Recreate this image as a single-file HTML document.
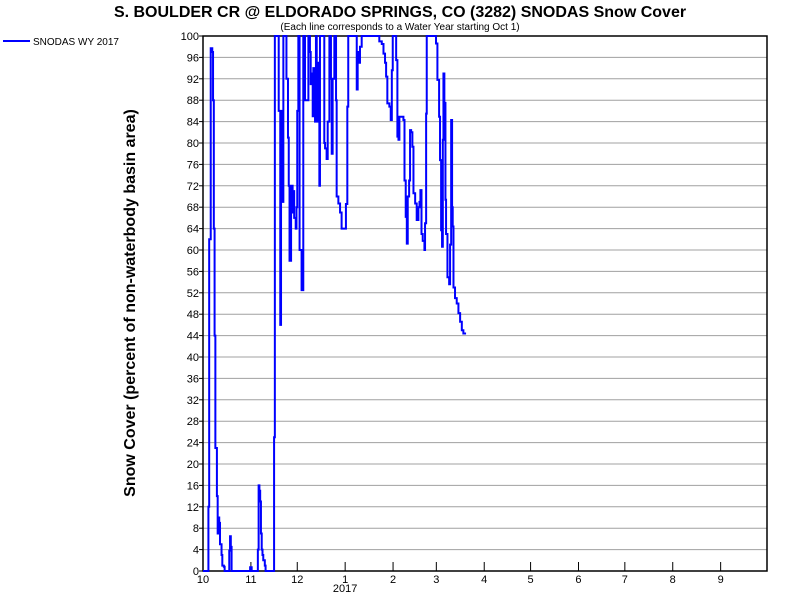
<!DOCTYPE html>
<html><head><meta charset="utf-8"><style>
body{margin:0;background:#fff;}
svg text{font-family:"Liberation Sans",sans-serif;}
</style></head><body>
<svg id="chart" width="800" height="600" viewBox="0 0 800 600" xmlns="http://www.w3.org/2000/svg">
<rect width="800" height="600" fill="#fff"/>
<text x="400" y="17" text-anchor="middle" font-size="16" font-weight="bold">S. BOULDER CR @ ELDORADO SPRINGS, CO (3282) SNODAS Snow Cover</text>
<text x="400" y="30" text-anchor="middle" font-size="10">(Each line corresponds to a Water Year starting Oct 1)</text>
<text transform="translate(135,303) rotate(-90)" text-anchor="middle" font-size="16" font-weight="bold">Snow Cover (percent of non-waterbody basin area)</text>
<g>
<line x1="3" y1="41" x2="30" y2="41" stroke="#0000ff" stroke-width="2"/>
<text x="33" y="45" font-size="10">SNODAS WY 2017</text>
</g>
<g id="grid"></g><g id="axes"></g><g id="series"></g>
</svg>
<script>
const yTicks=[0,4,8,12,16,20,24,28,32,36,40,44,48,52,56,60,64,68,72,76,80,84,88,92,96,100];
const xTickLabels=["10","11","12","1","2","3","4","5","6","7","8","9"];
const xTickDays=[0,31,61,92,123,151,182,212,243,273,304,335];
const days=[0,3,3.5,4,5,6,6.5,7,7.5,8,9,9.5,10,10.5,11,12,12.5,13.5,14,16.5,17,17.5,18,18.5,30,30.5,31.5,35,35.5,36,36.5,37,37.5,38,38.5,39,40,40.5,45.5,46,46.5,48.5,49,50,50.5,51,52,53.5,54,55,55.5,56,57,58,58.5,59,60,60.5,61,61.7,62.5,63.8,64.9,66,68.2,69.2,69.7,70.3,71,71.4,72.5,73.1,73.6,74.6,75.3,75.7,77.9,78.5,79,80,80.7,81.8,82.8,83.3,83.9,85,86.1,86.5,87.6,88.7,89.7,91.9,92.5,93.4,94,98.4,99.5,100.1,100.5,101.6,102.7,112.4,114.1,115.7,116.8,117.8,118.5,119.3,120.6,121.5,122.2,122.8,124.3,125,125.8,126.5,127.1,129.7,130.4,131.2,131.9,132.5,133.4,134,134.7,135.5,136.2,137.3,138.3,139.4,140.1,140.7,141.4,142.2,143.3,143.7,144.4,144.8,150.2,150.8,151.7,152.8,153.4,154.1,154.7,155.2,155.6,156.2,156.9,157.3,158.2,159.3,159.9,160.6,161.2,161.6,162.1,163.1,164.2,165.3,166.4,167.5,168.5,169.6];
const values=[0,0,12,62,97.7,97,88,64,44,23,14,7,10,9,5,3,1,0.8,0,0,3.8,6.5,4.5,0,0,0.7,0,0,4,16,15,13,7,4,3,2,1,0,0,25,100,100,86,46,86,69,100,100,92,81,72,58,72,67,71,66,64,68,86,100,60,52.5,100,88,100,97,91,93,85,94,84,100,84,95,72,100,100,80,79,77,84,100,92,78,92,100,88,70,68.7,67,64,64,68.6,86.8,100,100,90,97,95,98,100,100,99,98.5,96.7,95,92.4,87.4,86.8,84.3,93.6,100,100,95.5,81.2,80.6,84.9,84.3,73,66.2,61.2,70,73,82.4,82,79.3,70.6,68.7,65.6,68,69,71.2,63,61.7,60,65,85.5,100,100,98.6,91.8,84.9,76.8,63.7,60.6,80.6,93,87.5,69.4,63,54.9,53.6,61,84.3,68,64.4,53,51,50,48.2,46.6,45,44.4,44.2];
const X0=203,X1=767,Y0=571,Y1=36,NS="http://www.w3.org/2000/svg";
const xs=d=>X0+d*(X1-X0)/365, ys=v=>Y0-v*(Y0-Y1)/100;
function mk(t,a,p){const e=document.createElementNS(NS,t);for(const k in a)e.setAttribute(k,a[k]);p.appendChild(e);return e;}
const grid=document.getElementById('grid'),axes=document.getElementById('axes'),ser=document.getElementById('series');
yTicks.forEach(v=>{
 if(v>0&&v<100){const g=mk('line',{x1:X0,x2:X1,y1:ys(v),y2:ys(v),stroke:'#a0a0a0','stroke-width':1},grid);
 
 }
 const tk=mk('line',{x1:X0-4,x2:X0,y1:ys(v),y2:ys(v),stroke:'#000'},axes);
 
 
 const t=mk('text',{x:X0-4,y:ys(v)+4,'text-anchor':'end','font-size':11},axes);t.textContent=v;
 
 
});
xTickDays.forEach((d,i)=>{
 const tk=mk('line',{x1:xs(d),x2:xs(d),y1:Y0,y2:Y0-9,stroke:'#000'},axes);
 
 
 const t=mk('text',{x:xs(d),y:Y0+12,'text-anchor':'middle','font-size':11},axes);t.textContent=xTickLabels[i];
 
 
});
const yr=mk('text',{x:xs(92),y:Y0+21,'text-anchor':'middle','font-size':11},axes);yr.textContent='2017';


const fr=mk('rect',{x:X0,y:Y1,width:X1-X0,height:Y0-Y1,fill:'none',stroke:'#000','stroke-width':1.5},axes);


let pts=[];
for(let i=0;i<days.length;i++){
 if(i>0)pts.push(xs(days[i])+','+ys(values[i-1]));
 pts.push(xs(days[i])+','+ys(values[i]));
}
const pl=mk('polyline',{points:pts.join(' '),fill:'none',stroke:'#0000ff','stroke-width':2},ser);


</script>
</body></html>
